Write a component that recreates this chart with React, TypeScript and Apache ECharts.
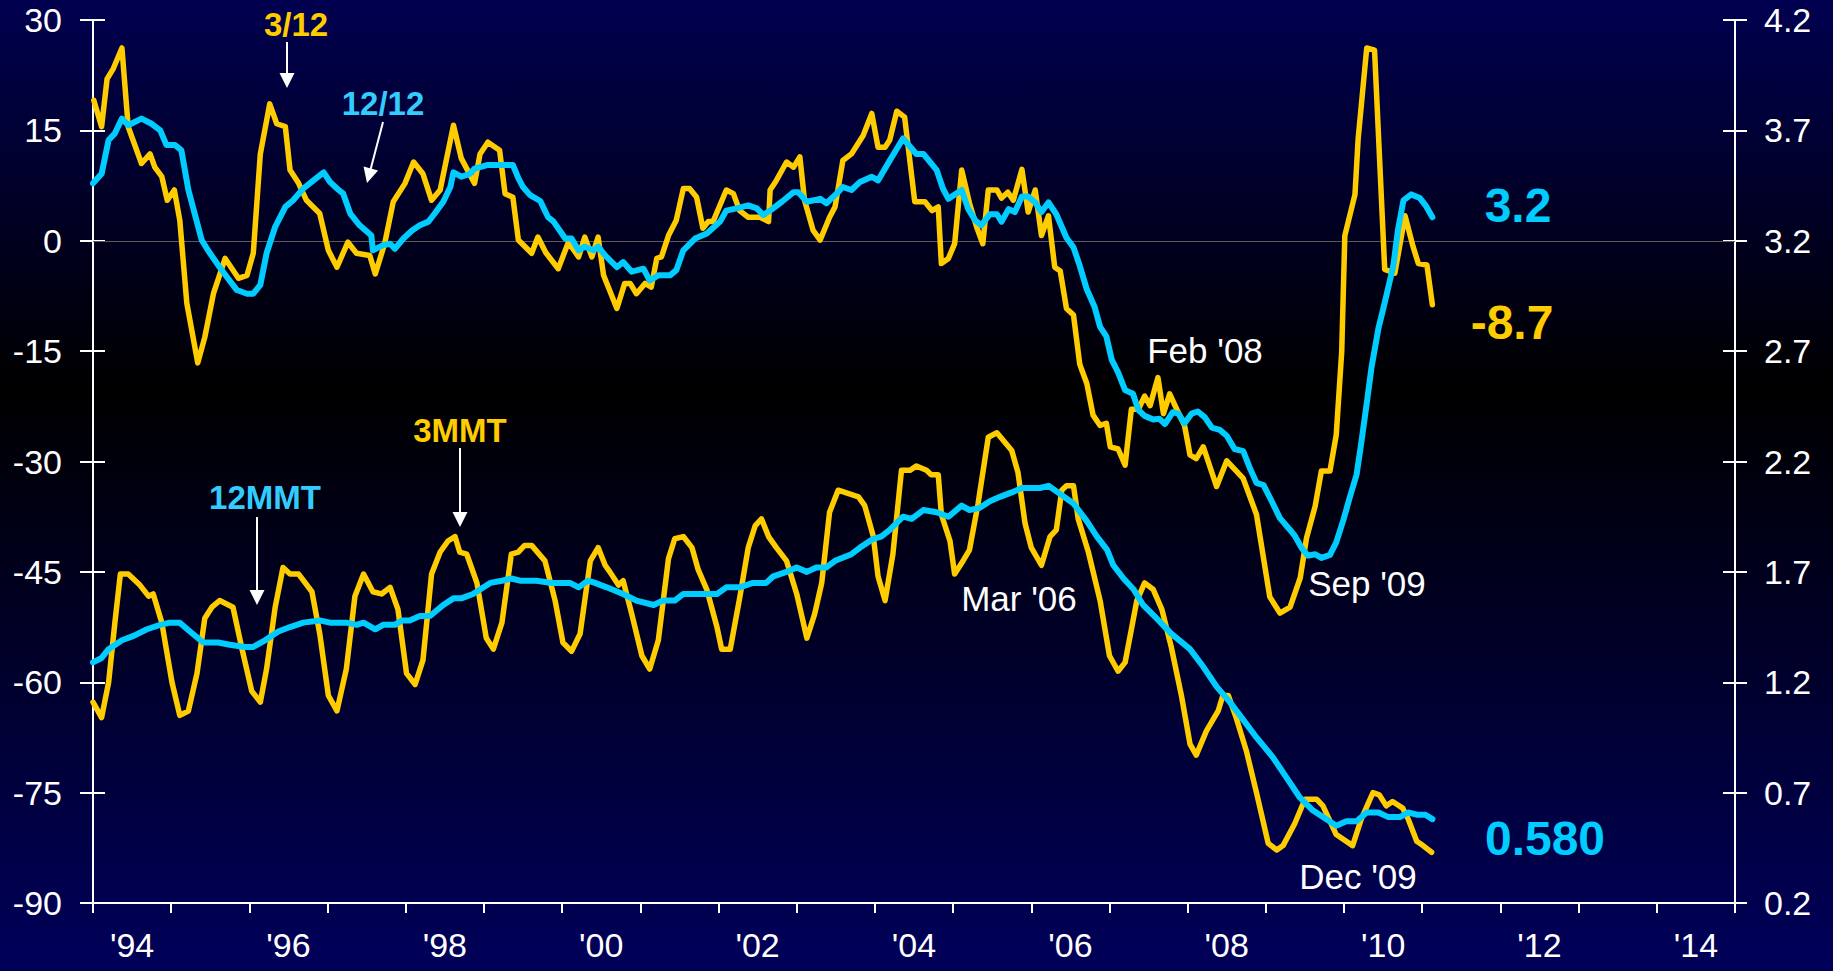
import React, { useEffect, useRef } from "react";
import * as echarts from "echarts";

// ---------- tick labels ----------
const yearTicks = ["'94", "'95", "'96", "'97", "'98", "'99", "'00", "'01", "'02", "'03", "'04", "'05", "'06", "'07", "'08", "'09", "'10", "'11", "'12", "'13", "'14"];

// ---------- series (decimal year, value) ----------
// 3/12 ratio (left axis)
const ratio3of12: [number, number][] = [
  [1994.01, 19.1], [1994.11, 15.5], [1994.18, 22.0], [1994.26, 23.4], [1994.37, 26.2], [1994.45, 15.5], [1994.62, 10.5], [1994.73, 11.8],
  [1994.79, 10.0], [1994.88, 8.7], [1994.95, 5.5], [1995.04, 6.9], [1995.11, 2.8], [1995.20, -8.5], [1995.34, -16.6], [1995.43, -13.1],
  [1995.54, -7.2], [1995.69, -2.4], [1995.86, -5.1], [1995.97, -4.7], [1996.05, -1.7], [1996.14, 11.8], [1996.26, 18.6], [1996.35, 15.9],
  [1996.46, 15.5], [1996.52, 9.6], [1996.63, 7.8], [1996.73, 5.5], [1996.90, 3.7], [1997.01, -1.3], [1997.12, -3.6], [1997.26, -0.2],
  [1997.37, -1.7], [1997.54, -2.0], [1997.61, -4.5], [1997.73, -0.4], [1997.84, 5.3], [1997.99, 7.8], [1998.10, 10.7], [1998.22, 9.1],
  [1998.33, 5.5], [1998.44, 6.9], [1998.61, 15.7], [1998.71, 11.2], [1998.88, 7.8], [1998.95, 11.8], [1999.05, 13.4], [1999.20, 12.3],
  [1999.27, 6.4], [1999.37, 5.9], [1999.44, 0.1], [1999.61, -1.7], [1999.69, 0.5], [1999.79, -1.6], [1999.95, -3.8], [2000.08, -0.2],
  [2000.21, -2.2], [2000.29, 0.5], [2000.38, -2.2], [2000.46, 0.5], [2000.53, -4.7], [2000.70, -9.2], [2000.80, -5.8], [2000.87, -5.8],
  [2000.95, -7.2], [2001.06, -5.8], [2001.14, -6.3], [2001.21, -2.4], [2001.27, -2.2], [2001.36, 0.7], [2001.46, 2.8], [2001.55, 7.1],
  [2001.63, 7.1], [2001.72, 5.9], [2001.80, 1.7], [2001.87, 2.6], [2001.93, 2.6], [2002.10, 6.9], [2002.19, 6.4], [2002.27, 4.1],
  [2002.38, 3.2], [2002.53, 3.2], [2002.64, 2.6], [2002.66, 6.9], [2002.74, 8.2], [2002.87, 10.7], [2002.96, 10.0], [2003.04, 11.4],
  [2003.10, 5.5], [2003.21, 1.4], [2003.30, 0.1], [2003.42, 3.2], [2003.49, 4.6], [2003.59, 10.9], [2003.70, 11.8], [2003.85, 14.3],
  [2003.96, 17.3], [2004.04, 12.7], [2004.13, 12.7], [2004.19, 13.7], [2004.28, 17.6], [2004.38, 16.8], [2004.51, 5.3], [2004.64, 5.3],
  [2004.73, 4.1], [2004.81, 4.6], [2004.85, -3.1], [2004.94, -2.4], [2005.02, -0.4], [2005.11, 9.6], [2005.21, 5.1], [2005.30, 1.9],
  [2005.38, -0.4], [2005.45, 6.9], [2005.56, 6.9], [2005.62, 5.8], [2005.70, 6.6], [2005.77, 5.5], [2005.88, 9.7], [2005.96, 3.9],
  [2006.05, 6.9], [2006.13, 0.7], [2006.22, 3.4], [2006.30, -3.6], [2006.37, -4.1], [2006.45, -9.2], [2006.54, -10.1], [2006.62, -16.8],
  [2006.71, -19.4], [2006.79, -23.7], [2006.88, -25.1], [2006.96, -24.8], [2007.01, -28.0], [2007.11, -28.3], [2007.20, -30.5], [2007.28, -22.9],
  [2007.37, -22.9], [2007.45, -21.1], [2007.52, -22.4], [2007.62, -18.6], [2007.69, -23.5], [2007.77, -20.8], [2007.86, -22.9], [2007.96, -25.1],
  [2008.03, -29.1], [2008.11, -29.6], [2008.20, -28.0], [2008.37, -33.4], [2008.50, -29.9], [2008.71, -32.3], [2008.88, -37.2], [2009.05, -48.4],
  [2009.18, -50.6], [2009.31, -49.8], [2009.44, -45.8], [2009.52, -40.4], [2009.63, -36.1], [2009.71, -31.3], [2009.82, -31.3], [2009.90, -26.4],
  [2009.97, -15.1], [2010.01, 0.7], [2010.14, 6.3], [2010.18, 13.8], [2010.29, 26.2], [2010.39, 25.9], [2010.52, -3.9], [2010.65, -4.4],
  [2010.78, 3.4], [2010.88, -0.7], [2010.95, -3.1], [2011.06, -3.3], [2011.13, -8.7],
];

// 12/12 ratio (left axis)
const ratio12of12: [number, number][] = [
  [1994.00, 7.8], [1994.11, 9.1], [1994.20, 13.7], [1994.28, 14.6], [1994.37, 16.6], [1994.45, 15.7], [1994.62, 16.6], [1994.75, 15.9],
  [1994.86, 15.0], [1994.94, 13.0], [1995.05, 13.0], [1995.13, 12.3], [1995.22, 6.9], [1995.30, 3.7], [1995.39, 0.1], [1995.47, -1.3],
  [1995.62, -3.6], [1995.71, -4.9], [1995.84, -6.7], [1995.97, -7.2], [1996.05, -7.2], [1996.14, -6.0], [1996.22, -1.7], [1996.33, 1.9],
  [1996.46, 4.6], [1996.56, 5.5], [1996.69, 7.1], [1996.82, 8.2], [1996.95, 9.3], [1997.03, 8.0], [1997.12, 7.1], [1997.20, 6.4],
  [1997.29, 3.7], [1997.41, 2.1], [1997.56, 0.7], [1997.58, -1.3], [1997.71, -0.6], [1997.80, -0.4], [1997.86, -1.1], [1997.97, 0.3],
  [1998.08, 1.4], [1998.18, 2.1], [1998.29, 2.6], [1998.37, 3.7], [1998.48, 5.3], [1998.57, 7.3], [1998.61, 9.3], [1998.71, 8.7],
  [1998.82, 9.1], [1998.88, 9.8], [1999.05, 10.3], [1999.25, 10.3], [1999.37, 10.3], [1999.44, 8.5], [1999.50, 7.3], [1999.59, 6.2],
  [1999.72, 5.4], [1999.82, 3.2], [1999.89, 2.6], [2000.04, 0.3], [2000.12, 0.3], [2000.21, -1.3], [2000.29, -0.8], [2000.40, -1.3],
  [2000.46, -0.8], [2000.55, -2.0], [2000.70, -3.6], [2000.78, -2.9], [2000.89, -4.2], [2001.04, -3.8], [2001.12, -5.4], [2001.23, -4.7],
  [2001.38, -4.7], [2001.46, -4.0], [2001.55, -1.3], [2001.70, 0.3], [2001.85, 1.0], [2002.02, 2.6], [2002.10, 4.1], [2002.23, 4.4],
  [2002.38, 4.8], [2002.49, 4.4], [2002.57, 3.5], [2002.66, 4.1], [2002.81, 5.3], [2002.96, 6.6], [2003.02, 6.6], [2003.13, 5.3],
  [2003.30, 5.7], [2003.38, 5.1], [2003.51, 6.4], [2003.59, 7.3], [2003.70, 6.9], [2003.81, 8.0], [2003.96, 8.7], [2004.04, 8.2],
  [2004.19, 10.9], [2004.36, 13.9], [2004.53, 11.8], [2004.62, 11.8], [2004.79, 9.6], [2004.87, 7.1], [2004.94, 5.7], [2005.11, 6.9],
  [2005.19, 4.4], [2005.28, 2.8], [2005.36, 2.1], [2005.47, 3.6], [2005.56, 3.6], [2005.62, 2.6], [2005.71, 4.3], [2005.79, 3.9],
  [2005.88, 6.0], [2005.96, 6.0], [2006.05, 5.2], [2006.13, 3.9], [2006.22, 5.2], [2006.32, 3.6], [2006.45, 0.4], [2006.54, -0.9],
  [2006.62, -3.4], [2006.71, -6.6], [2006.81, -9.0], [2006.88, -11.7], [2006.96, -13.0], [2007.03, -16.2], [2007.11, -17.9], [2007.20, -20.3],
  [2007.30, -20.8], [2007.37, -23.0], [2007.45, -23.8], [2007.56, -24.3], [2007.64, -24.2], [2007.71, -24.9], [2007.81, -23.3], [2007.88, -23.5],
  [2007.96, -24.8], [2008.05, -23.5], [2008.13, -23.2], [2008.22, -24.0], [2008.31, -25.4], [2008.41, -25.7], [2008.50, -26.5], [2008.60, -28.3],
  [2008.71, -28.6], [2008.80, -31.0], [2008.88, -32.9], [2008.97, -33.2], [2009.07, -35.3], [2009.18, -37.7], [2009.31, -39.3], [2009.37, -40.1],
  [2009.46, -41.8], [2009.54, -42.8], [2009.63, -42.6], [2009.71, -43.1], [2009.82, -42.7], [2009.90, -41.0], [2009.99, -38.0], [2010.07, -35.0],
  [2010.16, -31.8], [2010.22, -27.5], [2010.29, -22.1], [2010.35, -17.3], [2010.44, -11.9], [2010.50, -9.3], [2010.56, -6.6], [2010.63, -3.4],
  [2010.69, 1.5], [2010.76, 5.5], [2010.86, 6.3], [2010.97, 5.8], [2011.05, 4.7], [2011.13, 3.2],
];

// 3MMT (right axis)
const mmt3: [number, number][] = [
  [1994.00, 1.11], [1994.11, 1.04], [1994.20, 1.20], [1994.28, 1.47], [1994.35, 1.69], [1994.45, 1.69], [1994.60, 1.64], [1994.71, 1.59],
  [1994.77, 1.60], [1994.88, 1.47], [1995.01, 1.20], [1995.11, 1.05], [1995.22, 1.07], [1995.33, 1.24], [1995.43, 1.49], [1995.52, 1.54],
  [1995.62, 1.57], [1995.79, 1.54], [1995.90, 1.36], [1996.03, 1.16], [1996.14, 1.11], [1996.22, 1.26], [1996.33, 1.54], [1996.43, 1.72],
  [1996.52, 1.69], [1996.63, 1.69], [1996.80, 1.61], [1996.90, 1.42], [1997.01, 1.14], [1997.12, 1.07], [1997.24, 1.26], [1997.35, 1.59],
  [1997.46, 1.69], [1997.58, 1.61], [1997.69, 1.60], [1997.80, 1.63], [1997.90, 1.53], [1998.01, 1.24], [1998.12, 1.19], [1998.22, 1.30],
  [1998.33, 1.69], [1998.44, 1.79], [1998.54, 1.84], [1998.63, 1.86], [1998.69, 1.79], [1998.78, 1.78], [1998.91, 1.65], [1999.03, 1.40],
  [1999.12, 1.35], [1999.23, 1.47], [1999.35, 1.78], [1999.44, 1.79], [1999.52, 1.82], [1999.61, 1.82], [1999.78, 1.75], [1999.91, 1.57],
  [2000.01, 1.38], [2000.12, 1.34], [2000.23, 1.42], [2000.36, 1.75], [2000.46, 1.81], [2000.55, 1.73], [2000.61, 1.70], [2000.72, 1.64],
  [2000.78, 1.66], [2000.89, 1.51], [2001.02, 1.32], [2001.12, 1.26], [2001.23, 1.39], [2001.36, 1.76], [2001.44, 1.85], [2001.55, 1.86],
  [2001.66, 1.81], [2001.74, 1.71], [2001.85, 1.62], [2001.98, 1.45], [2002.04, 1.35], [2002.15, 1.35], [2002.27, 1.58], [2002.38, 1.81],
  [2002.47, 1.91], [2002.55, 1.94], [2002.64, 1.86], [2002.74, 1.81], [2002.87, 1.75], [2003.00, 1.60], [2003.13, 1.40], [2003.23, 1.51],
  [2003.32, 1.65], [2003.42, 1.97], [2003.53, 2.07], [2003.79, 2.04], [2003.87, 2.00], [2003.98, 1.86], [2004.04, 1.68], [2004.13, 1.57],
  [2004.23, 1.78], [2004.34, 2.16], [2004.45, 2.16], [2004.53, 2.18], [2004.66, 2.16], [2004.72, 2.14], [2004.81, 2.14], [2004.85, 1.96],
  [2004.96, 1.84], [2005.02, 1.69], [2005.11, 1.74], [2005.21, 1.80], [2005.32, 2.01], [2005.45, 2.31], [2005.56, 2.33], [2005.75, 2.25],
  [2005.83, 2.15], [2005.92, 1.92], [2006.00, 1.81], [2006.13, 1.73], [2006.24, 1.86], [2006.32, 1.89], [2006.39, 2.07], [2006.45, 2.09],
  [2006.54, 2.09], [2006.60, 1.94], [2006.73, 1.79], [2006.88, 1.57], [2007.00, 1.32], [2007.11, 1.25], [2007.20, 1.29], [2007.35, 1.57],
  [2007.45, 1.65], [2007.56, 1.62], [2007.67, 1.53], [2007.79, 1.36], [2007.92, 1.14], [2008.03, 0.92], [2008.11, 0.87], [2008.24, 0.98],
  [2008.39, 1.07], [2008.45, 1.14], [2008.52, 1.14], [2008.62, 1.04], [2008.75, 0.89], [2008.88, 0.70], [2009.03, 0.47], [2009.14, 0.44],
  [2009.22, 0.46], [2009.37, 0.56], [2009.50, 0.67], [2009.65, 0.67], [2009.73, 0.64], [2009.90, 0.51], [2010.11, 0.46], [2010.22, 0.58],
  [2010.37, 0.70], [2010.45, 0.69], [2010.54, 0.64], [2010.62, 0.66], [2010.75, 0.63], [2010.82, 0.58], [2010.93, 0.48], [2011.01, 0.46],
  [2011.12, 0.43],
];

// 12MMT (right axis)
const mmt12: [number, number][] = [
  [1994.00, 1.29], [1994.11, 1.31], [1994.20, 1.35], [1994.37, 1.39], [1994.52, 1.41], [1994.69, 1.44], [1994.86, 1.46], [1994.98, 1.47],
  [1995.11, 1.47], [1995.24, 1.43], [1995.41, 1.38], [1995.60, 1.38], [1995.75, 1.37], [1995.94, 1.36], [1996.05, 1.36], [1996.20, 1.39],
  [1996.37, 1.43], [1996.52, 1.45], [1996.69, 1.47], [1996.90, 1.48], [1997.03, 1.47], [1997.24, 1.47], [1997.37, 1.46], [1997.46, 1.47],
  [1997.61, 1.44], [1997.71, 1.46], [1997.86, 1.46], [1997.95, 1.48], [1998.05, 1.48], [1998.18, 1.50], [1998.31, 1.50], [1998.48, 1.55],
  [1998.61, 1.58], [1998.71, 1.58], [1998.86, 1.60], [1999.08, 1.65], [1999.23, 1.66], [1999.35, 1.67], [1999.46, 1.66], [1999.67, 1.66],
  [1999.87, 1.65], [2000.10, 1.65], [2000.21, 1.63], [2000.33, 1.66], [2000.42, 1.65], [2000.57, 1.63], [2000.78, 1.60], [2000.95, 1.57],
  [2001.17, 1.55], [2001.29, 1.57], [2001.44, 1.57], [2001.55, 1.60], [2001.68, 1.60], [2001.80, 1.60], [2001.98, 1.60], [2002.10, 1.63],
  [2002.27, 1.63], [2002.44, 1.65], [2002.61, 1.65], [2002.70, 1.68], [2002.87, 1.70], [2003.00, 1.72], [2003.13, 1.70], [2003.25, 1.72],
  [2003.38, 1.72], [2003.49, 1.75], [2003.70, 1.78], [2003.81, 1.81], [2003.98, 1.85], [2004.08, 1.86], [2004.19, 1.89], [2004.36, 1.95],
  [2004.47, 1.94], [2004.62, 1.98], [2004.79, 1.97], [2004.94, 1.95], [2005.11, 2.00], [2005.21, 1.98], [2005.34, 1.99], [2005.47, 2.02],
  [2005.60, 2.04], [2005.75, 2.06], [2005.88, 2.08], [2006.11, 2.08], [2006.22, 2.09], [2006.34, 2.06], [2006.54, 2.01], [2006.71, 1.93],
  [2006.84, 1.86], [2006.97, 1.80], [2007.05, 1.73], [2007.18, 1.67], [2007.31, 1.62], [2007.43, 1.55], [2007.60, 1.49], [2007.79, 1.42],
  [2008.03, 1.35], [2008.20, 1.27], [2008.37, 1.18], [2008.54, 1.11], [2008.69, 1.04], [2008.88, 0.95], [2009.09, 0.86], [2009.26, 0.77],
  [2009.43, 0.68], [2009.60, 0.62], [2009.77, 0.58], [2009.90, 0.55], [2010.03, 0.57], [2010.16, 0.57], [2010.29, 0.61], [2010.44, 0.61],
  [2010.56, 0.59], [2010.72, 0.59], [2010.82, 0.61], [2010.93, 0.60], [2011.04, 0.60], [2011.13, 0.58],
];

const YELLOW = "#FFCC00";
const CYAN = "#00CCFF";
const CYAN_TEXT = "#33CCFF";
const FONT = '"Liberation Sans", Arial, Helvetica, sans-serif';

function txt(text: string, x: number, y: number, fill: string, size: number, bold: boolean) {
  return {
    type: "text",
    x,
    y,
    silent: true,
    style: {
      text,
      fill,
      fontSize: size,
      fontWeight: bold ? "bold" : "normal",
      fontFamily: FONT,
      align: "center",
      verticalAlign: "middle",
    },
  };
}

function arrow(x1: number, y1: number, x2: number, y2: number) {
  const dx = x2 - x1;
  const dy = y2 - y1;
  const len = Math.sqrt(dx * dx + dy * dy);
  const ux = dx / len;
  const uy = dy / len;
  const head = 15;
  const half = 7.5;
  const bx = x2 - ux * head;
  const by = y2 - uy * head;
  const px = -uy;
  const py = ux;
  return [
    { type: "line", silent: true, shape: { x1, y1, x2: bx + ux * 2, y2: by + uy * 2 }, style: { stroke: "#ffffff", lineWidth: 2 } },
    {
      type: "polygon",
      silent: true,
      shape: { points: [[bx + px * half, by + py * half], [bx - px * half, by - py * half], [x2, y2]] },
      style: { fill: "#ffffff" },
    },
  ];
}

export default function App() {
  const ref = useRef<HTMLDivElement>(null);
  useEffect(() => {
    if (!ref.current) return;
    const chart = echarts.init(ref.current, null, { renderer: "svg" });
    const axisText = { color: "#ffffff", fontSize: 34, fontFamily: FONT };
    const whiteLine = { color: "#ffffff", width: 2 };
    chart.setOption({
      animation: false,
      backgroundColor: "transparent",
      grid: { left: 93, right: 98, top: 20, bottom: 68, containLabel: false },
      xAxis: [
        {
          type: "category",
          data: yearTicks,
          boundaryGap: true,
          position: "bottom",
          axisLine: { show: true, onZero: false, lineStyle: whiteLine },
          axisTick: { show: true, interval: 0, length: 10, lineStyle: whiteLine },
          axisLabel: { ...axisText, interval: 1, margin: 25 },
          splitLine: { show: false },
        },
        { type: "value", min: 1994, max: 2015, show: false },
      ],
      yAxis: [
        {
          type: "value",
          position: "left",
          min: -90,
          max: 30,
          interval: 15,
          axisLine: { show: true, lineStyle: whiteLine },
          axisTick: { show: true, length: 13, lineStyle: whiteLine },
          axisLabel: { ...axisText, margin: 31 },
          splitLine: { show: false },
        },
        {
          type: "value",
          position: "right",
          min: 0.2,
          max: 4.2,
          interval: 0.5,
          axisLine: { show: true, lineStyle: whiteLine },
          axisTick: { show: true, length: 12, lineStyle: whiteLine },
          axisLabel: { ...axisText, margin: 29, formatter: (v: number) => v.toFixed(1) },
          splitLine: { show: false },
        },
        {
          type: "value",
          position: "left",
          min: -90,
          max: 30,
          interval: 15,
          axisLine: { show: false },
          axisTick: { show: true, inside: true, length: 12, lineStyle: whiteLine },
          axisLabel: { show: false },
          splitLine: { show: false },
        },
        {
          type: "value",
          position: "right",
          min: 0.2,
          max: 4.2,
          interval: 0.5,
          axisLine: { show: false },
          axisTick: { show: true, inside: true, length: 12, lineStyle: whiteLine },
          axisLabel: { show: false },
          splitLine: { show: false },
        },
      ],
      series: [
        {
          name: "3/12",
          type: "line",
          xAxisIndex: 1,
          yAxisIndex: 0,
          data: ratio3of12,
          showSymbol: false,
          lineStyle: { color: YELLOW, width: 5.5, join: "round", cap: "round" },
          z: 3,
          markLine: {
            silent: true,
            symbol: "none",
            label: { show: false },
            emphasis: { disabled: true },
            lineStyle: { color: "#5a5a5a", width: 1, type: "solid" },
            data: [{ yAxis: 0 }],
            z: 1,
          },
        },
        {
          name: "12/12",
          type: "line",
          xAxisIndex: 1,
          yAxisIndex: 0,
          data: ratio12of12,
          showSymbol: false,
          lineStyle: { color: CYAN, width: 6, join: "round", cap: "round" },
          z: 4,
        },
        {
          name: "3MMT",
          type: "line",
          xAxisIndex: 1,
          yAxisIndex: 1,
          data: mmt3,
          showSymbol: false,
          lineStyle: { color: YELLOW, width: 5.5, join: "round", cap: "round" },
          z: 3,
        },
        {
          name: "12MMT",
          type: "line",
          xAxisIndex: 1,
          yAxisIndex: 1,
          data: mmt12,
          showSymbol: false,
          lineStyle: { color: CYAN, width: 6, join: "round", cap: "round" },
          z: 4,
        },
      ],
      graphic: [
        txt("3/12", 296, 24, YELLOW, 33, true),
        ...arrow(287, 42, 287, 88),
        txt("12/12", 383, 103, CYAN_TEXT, 33, true),
        ...arrow(383, 122, 367, 183),
        txt("12MMT", 265, 497, CYAN_TEXT, 33, true),
        ...arrow(257, 517, 257, 605),
        txt("3MMT", 460, 430, YELLOW, 33, true),
        ...arrow(460, 448, 460, 527),
        txt("Feb '08", 1205, 350, "#ffffff", 35, false),
        txt("Mar '06", 1019, 598, "#ffffff", 35, false),
        txt("Sep '09", 1367, 583, "#ffffff", 35, false),
        txt("Dec '09", 1358, 876, "#ffffff", 35, false),
        txt("3.2", 1518, 205, CYAN, 48, true),
        txt("-8.7", 1512, 322, YELLOW, 48, true),
        txt("0.580", 1545, 838, CYAN, 48, true),
      ],
    });
    return () => chart.dispose();
  }, []);
  return (
    <div
      ref={ref}
      style={{
        position: "fixed",
        left: 0,
        top: 0,
        width: 1833,
        height: 971,
        background: "linear-gradient(to bottom, #000050 0%, #000000 40%, #00005a 100%)",
      }}
    />
  );
}
